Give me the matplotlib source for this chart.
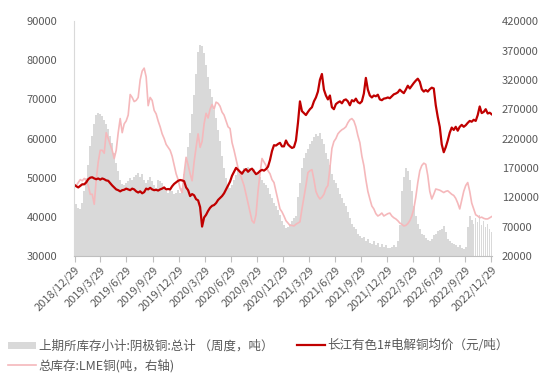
import numpy as np
import pandas as pd
import matplotlib
matplotlib.use("Agg")
import matplotlib.pyplot as plt

plt.rcParams['font.family'] = ['Noto Sans CJK SC', 'DejaVu Sans']

# weekly dates (Fridays)
weeks = pd.date_range('2018-12-28', periods=210, freq='W-FRI')

# SHFE cathode copper stock, thousand tonnes (right axis)
shfe_k = [
    105,
    108, 102, 100, 110,
    130, 152, 175, 207,
    225, 245, 260, 264, 262,
    258, 252, 245, 236,
    225, 213, 195, 178, 165,
    150, 142, 140, 145,
    148, 152, 150, 155,
    158, 162, 155, 160, 150,
    145, 150, 155, 148,
    140, 135, 150, 148,
    145, 138, 130, 128, 135,
    130, 125, 128, 133,
    # 2020
    128, 135, 160, 185, 205,
    230, 262, 295, 330,
    368, 380, 378, 365,
    345, 325, 305, 290,
    268, 255, 235, 215, 190,
    170, 152, 140, 135,
    140, 150, 158, 165, 160,
    165, 170, 168, 172,
    170, 165, 168, 160,
    160, 155, 150, 145, 140,
    135, 125, 118, 110,
    105, 98, 90, 80,
    # 2021
    72, 68, 70, 75, 80,
    85, 88, 120, 145,
    170, 186, 195, 203,
    210, 215, 222, 228, 225,
    230, 220, 210, 195,
    185, 175, 160, 150,
    145, 135, 125, 118, 110,
    105, 95, 85, 75,
    70, 65, 58, 54,
    50, 52, 45, 48, 42,
    40, 45, 38, 42,
    36, 40, 35, 38, 34,
    # 2022
    33, 35, 38, 36,
    45, 72, 130, 155,
    170, 165, 150, 130,
    105, 88, 75, 65, 58,
    55, 50, 47, 45,
    48, 55, 58, 62,
    64, 66, 71, 60, 48,
    45, 42, 40, 38,
    36, 38, 34, 32, 35,
    70, 88, 82, 75,
    85, 78, 90, 72,
    80, 70, 75, 65, 60,
]

# Changjiang 1# cathode copper average price, yuan/t (left axis)
price = [
    48200,
    47800, 47500, 47900, 48300,
    48300, 48800, 49600, 50000,
    50100, 49800, 49600, 49800, 49500,
    49800, 49600, 49300, 49200,
    48600, 48000, 47500, 47000, 46800,
    46500, 46800, 46900, 47200,
    47000, 46800, 47200, 47000,
    46500, 46200, 46500, 46000, 46300,
    47200, 47000, 47400, 47000,
    46800, 46900, 46700, 47000,
    47200, 47500, 47000, 47100, 47000,
    47800, 48400, 48800, 49200,
    # 2020
    49400, 49300, 49100, 47500, 46800,
    45300, 45800, 45500, 44500,
    44200, 42500, 37500, 39800,
    40500, 41500, 42300, 42800,
    43000, 43500, 44300, 44800, 45300,
    46000, 47000, 48000, 49000,
    50500, 51500, 52500, 52000, 51500,
    51000, 51800, 52200, 51500,
    52000, 52300, 51600, 50900,
    51200, 51700, 52000, 51800, 52200,
    52800, 54500, 56800, 58300,
    58200, 58600, 58900, 58000,
    # 2021
    58000, 59500, 58500, 58000, 57600,
    57800, 59500, 64000, 69500,
    67000, 66500, 66000, 66800,
    67500, 68000, 69500, 70500, 72000,
    75000, 76500, 72500, 71000,
    70000, 71000, 68000, 67500,
    68800, 69200, 69500, 69000, 69800,
    70000, 69500, 68500, 69800,
    69500, 70200, 69300, 69000,
    69500, 71500, 75500, 72500, 71000,
    70500, 71000, 70800, 71200,
    70000, 69800, 70200, 70300, 70500,
    # 2022
    70300, 70800, 71300, 71500,
    71800, 72500, 72000, 71600,
    72500, 73500, 72800, 73500,
    74200, 74800, 75300, 74500, 72600,
    72000, 72400, 72000, 72600,
    73000, 72800, 68500, 65500,
    63000, 58500, 56500, 57800, 59500,
    61500, 62800, 62200, 63000,
    62000, 63000, 63500, 63000, 63400,
    64000, 64500, 64300, 64800,
    64500, 66000, 68200, 66500,
    66800, 67500, 66400, 66600, 66200,
]

# LME copper total stock, thousand tonnes (right axis)
lme_k = [
    138,
    140, 145, 150, 148,
    152, 148, 140, 125,
    125, 108, 150, 180, 200,
    200, 195, 230, 220,
    210, 200, 186, 200, 230,
    254, 230, 245, 250,
    260, 295, 290, 283,
    285, 290, 320, 335, 340,
    325, 276, 290, 285,
    268, 262, 250, 240,
    228, 220, 210, 205, 200,
    190, 175, 160, 150,
    # 2020
    135, 128, 160, 188, 175,
    160, 148, 180, 205,
    228, 205, 215, 245,
    263, 255, 270, 278,
    270, 282, 280, 275, 265,
    260, 250, 240, 237,
    213, 200, 185, 170, 160,
    150, 140, 125, 110,
    95, 80, 76, 90,
    130, 160, 186, 180, 174,
    165, 160, 150, 145,
    130, 115, 100, 95,
    # 2021
    88, 80, 76, 72, 72,
    71, 74, 76, 78,
    100, 120, 140, 162,
    165, 167, 150, 130, 122,
    117, 120, 125, 135,
    140, 170, 203, 215,
    220, 228, 232, 235, 237,
    240, 247, 252, 254,
    250, 240, 225, 213,
    190, 174, 150, 130, 117,
    105, 100, 92, 88,
    90, 93, 88, 90, 92,
    # 2022
    93, 88, 85, 83,
    80, 76, 74, 71,
    72, 75, 80, 88,
    100, 120, 145, 165, 174,
    178, 176, 157, 130,
    117, 125, 134, 133,
    132, 130, 128, 130, 131,
    128, 125, 123, 118,
    110, 100, 115, 130, 140,
    145, 130, 110, 100,
    90, 88, 85, 86,
    84, 83, 83, 85, 87,
]

shfe = np.array(shfe_k) * 1000
lme = np.array(lme_k) * 1000

tick_dates = pd.date_range('2018-12-01', periods=17, freq='3MS') + pd.Timedelta(days=28)
tick_labels = [f"{d.year}/{d.month}/{d.day}" for d in tick_dates]

fig = plt.figure(figsize=(5.5, 3.78), dpi=100)
ax = fig.add_axes([0.1345, 0.323, 0.76, 0.621])
ax2 = ax.twinx()

gray_txt = '#595959'

bars = ax2.bar(weeks, shfe, width=5.5, color='#d9d9d9')
lme_line, = ax2.plot(weeks, lme, color='#f5b8bb', lw=1.2)
price_line, = ax.plot(weeks, price, color='#c00000', lw=1.6)

ax.set_zorder(ax2.get_zorder() + 1)
ax.patch.set_visible(False)

ax.set_ylim(30000, 90000)
ax.set_yticks(np.arange(30000, 90001, 10000))
ax2.set_ylim(20000, 420000)
ax2.set_yticks(np.arange(20000, 420001, 50000))

ax.set_xlim(pd.Timestamp('2018-12-27'), pd.Timestamp('2022-12-31'))
ax.set_xticks(tick_dates)
ax.set_xticklabels(tick_labels, rotation=45, ha='right', rotation_mode='anchor')

for a in (ax, ax2):
    for s in a.spines.values():
        s.set_visible(False)
ax.spines['left'].set_visible(True)
ax.spines['left'].set_color('#d9d9d9')
ax.spines['bottom'].set_visible(True)
ax.spines['bottom'].set_color('#bfbfbf')

ax.tick_params(axis='y', length=0, pad=12, labelsize=8, labelcolor=gray_txt)
ax.tick_params(axis='x', length=4, color='#bfbfbf', pad=2, labelsize=8, labelcolor=gray_txt)
ax2.tick_params(axis='y', length=0, pad=7, labelsize=8, labelcolor=gray_txt)

leg_kw = dict(frameon=False, fontsize=9, labelcolor=gray_txt, handlelength=2.2,
              handleheight=0.45, handletextpad=0.25, borderpad=0, borderaxespad=0,
              labelspacing=0.45)
fig.legend([bars, lme_line],
           ['上期所库存小计:阴极铜:总计 （周度，吨）', '总库存:LME铜(吨，右轴)'],
           loc='center left', bbox_to_anchor=(8 / 550, 1 - 356 / 378), **leg_kw)
fig.legend([price_line], ['长江有色1#电解铜均价（元/吨）'],
           loc='center left', bbox_to_anchor=(297 / 550, 1 - 345 / 378), **leg_kw)

fig.savefig('out.png', dpi=100)
